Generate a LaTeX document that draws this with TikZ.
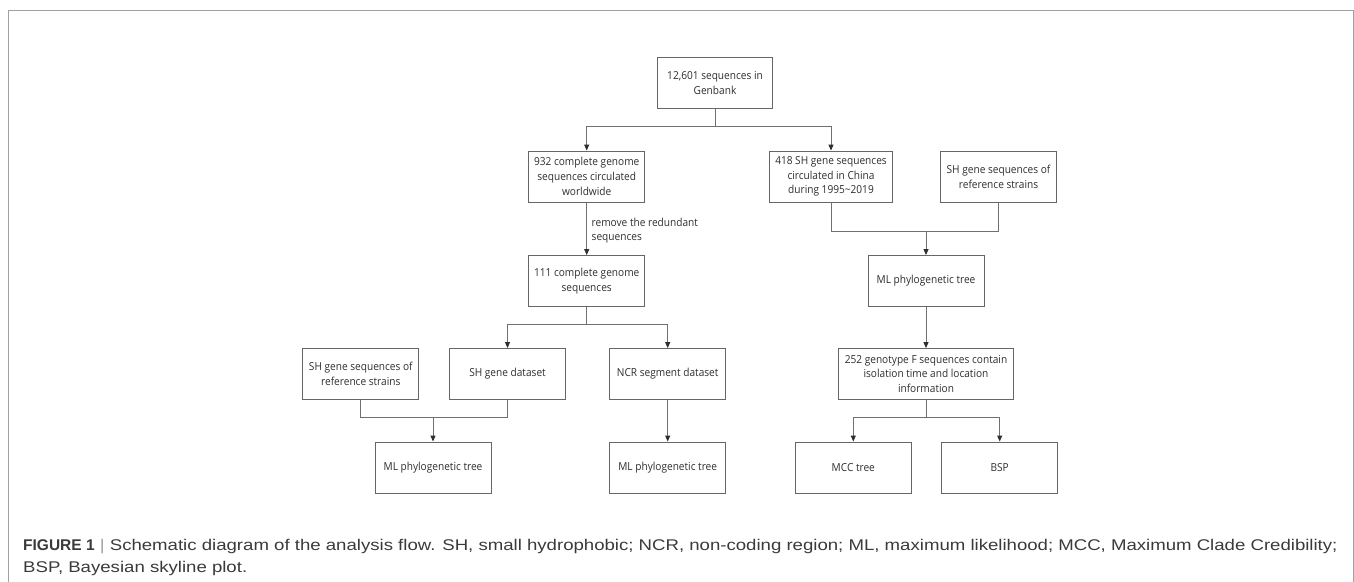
\documentclass[tikz,border=0pt]{standalone}
\usepackage{fontspec}
\setmainfont{Open Sans}[FakeStretch=0.92]
\newfontfamily\capfont{Liberation Sans}[FakeStretch=1.2]
\newfontfamily\capbold{Liberation Sans Bold}
\usetikzlibrary{arrows.meta}
\definecolor{framegray}{HTML}{A0A0A0}
\definecolor{boxgray}{HTML}{666666}
\definecolor{linegray}{HTML}{707070}
\definecolor{textgray}{HTML}{2E2E2E}
\definecolor{capgray}{HTML}{3A3A3A}
\tikzset{
  box/.style={draw=boxgray, line width=0.9pt, minimum width=116pt, minimum height=51pt,
    align=center, inner sep=2pt, text=textgray, font=\fontsize{11}{14.7}\selectfont},
  link/.style={draw=linegray, line width=0.9pt},
  arr/.style={link, -{Triangle[length=6pt,width=5pt,color=textgray]}},
  note/.style={align=left, inner sep=0pt, text=textgray, font=\fontsize{11}{14.7}\selectfont},
  captext/.style={anchor=base west, inner sep=0pt, text=capgray, font=\capfont\fontsize{15.5}{19}\selectfont}
}
\begin{document}
\begin{tikzpicture}[x=1pt,y=-1pt]
\useasboundingbox (0,0) rectangle (1354,581);
\draw[framegray, line width=1pt] (8,590) -- (8,10) -- (1353,10) -- (1353,590);

\node[box, minimum width=114.6pt] (top) at (715,83) {12,601 sequences in\\Genbank};
\node[box] (c932) at (586.7,176.5) {932 complete genome\\sequences circulated\\worldwide};
\node[box, minimum width=123pt] (c418) at (831,176.5) {418 SH gene sequences\\circulated in China\\during 1995\textasciitilde 2019};
\node[box] (refR) at (998.5,176.5) {SH gene sequences of\\reference strains};
\node[box] (mlR) at (926,281) {ML phylogenetic tree};
\node[box, minimum width=174.6pt] (g252) at (926,374) {252 genotype F sequences contain\\isolation time and location\\information};
\node[box] (mcc) at (853.3,467.5) {MCC tree};
\node[box] (bsp) at (999.7,467.5) {BSP};
\node[box] (c111) at (586.7,281) {111 complete genome\\sequences};
\node[box] (refL) at (360.8,374) {SH gene sequences of\\reference strains};
\node[box] (shd) at (507.5,374) {SH gene dataset};
\node[box] (ncr) at (667.7,374) {NCR segment dataset};
\node[box] (mlL) at (433,467.5) {ML phylogenetic tree};
\node[box] (mlM) at (667.7,467.5) {ML phylogenetic tree};

\coordinate (j1) at (715,126.7);
\draw[link] (top.south) -- (j1);
\draw[arr] (j1) -| (c932.north);
\draw[arr] (j1) -| (c418.north);

\coordinate (j2) at (926,231);
\draw[link] (c418.south) |- (j2);
\draw[link] (refR.south) |- (j2);
\draw[arr] (j2) -- (mlR.north);
\draw[arr] (mlR) -- (g252);
\coordinate (j3) at (926,417.3);
\draw[link] (g252.south) -- (j3);
\draw[arr] (j3) -| (mcc.north);
\draw[arr] (j3) -| (bsp.north);

\draw[arr] (c932) -- (c111);
\node[note, anchor=west] (lbl) at (591.5,230.5) {remove the redundant\\sequences};
\coordinate (j4) at (586.7,324.3);
\draw[link] (c111.south) -- (j4);
\draw[arr] (j4) -| (shd.north);
\draw[arr] (j4) -| (ncr.north);
\coordinate (j5) at (433,417.3);
\draw[link] (refL.south) |- (j5);
\draw[link] (shd.south) |- (j5);
\draw[arr] (j5) -- (mlL.north);
\draw[arr] (ncr) -- (mlM);

\node[captext] (cap1) at (23,550) {{\capbold FIGURE 1} {\color{framegray}|} Schematic diagram of the analysis flow. SH, small hydrophobic; NCR, non-coding region; ML, maximum likelihood; MCC, Maximum Clade Credibility;};
\node[captext] (cap2) at (23,572) {BSP, Bayesian skyline plot.};
\end{tikzpicture}
\end{document}
